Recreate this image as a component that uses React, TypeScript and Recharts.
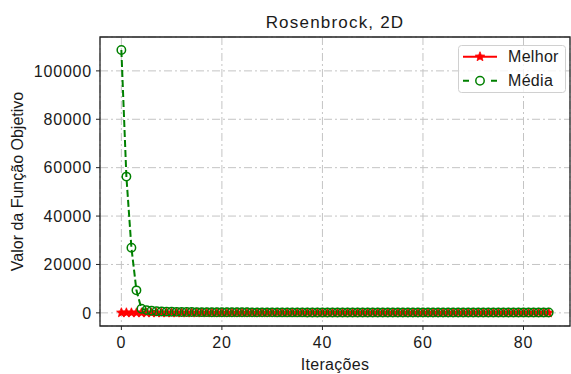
import { LineChart, Line, XAxis, YAxis, CartesianGrid, Legend, ReferenceArea } from "recharts";

const FONT = '"Liberation Sans", Arial, Helvetica, sans-serif';
const TEXT = "#1a1a1a";

const iteracoes = [
  0, 1, 2, 3, 4, 5, 6, 7, 8, 9,
  10, 11, 12, 13, 14, 15, 16, 17, 18, 19,
  20, 21, 22, 23, 24, 25, 26, 27, 28, 29,
  30, 31, 32, 33, 34, 35, 36, 37, 38, 39,
  40, 41, 42, 43, 44, 45, 46, 47, 48, 49,
  50, 51, 52, 53, 54, 55, 56, 57, 58, 59,
  60, 61, 62, 63, 64, 65, 66, 67, 68, 69,
  70, 71, 72, 73, 74, 75, 76, 77, 78, 79,
  80, 81, 82, 83, 84, 85,
];

const melhor = [
  60, 44, 31, 23, 17, 13, 10, 8, 6.4, 5.1,
  4.2, 3.5, 2.9, 2.4, 2.0, 1.7, 1.45, 1.25, 1.1, 0.95,
  0.84, 0.75, 0.67, 0.6, 0.54, 0.49, 0.44, 0.4, 0.37, 0.34,
  0.31, 0.29, 0.27, 0.25, 0.23, 0.21, 0.2, 0.19, 0.18, 0.17,
  0.16, 0.15, 0.14, 0.13, 0.125, 0.12, 0.115, 0.11, 0.105, 0.1,
  0.096, 0.092, 0.088, 0.085, 0.082, 0.079, 0.076, 0.073, 0.07, 0.068,
  0.066, 0.064, 0.062, 0.06, 0.058, 0.056, 0.054, 0.052, 0.05, 0.049,
  0.048, 0.047, 0.046, 0.045, 0.044, 0.043, 0.042, 0.041, 0.04, 0.039,
  0.038, 0.037, 0.036, 0.035, 0.034, 0.033,
];

const media = [
  108600, 56300, 26900, 9300, 1700, 1150, 850, 680, 570, 500,
  450, 410, 380, 355, 335, 318, 302, 290, 278, 268,
  259, 250, 243, 236, 230, 224, 219, 214, 209, 205,
  201, 197, 193, 190, 187, 184, 181, 178, 176, 173,
  171, 169, 167, 165, 163, 161, 159, 157, 156, 154,
  153, 151, 150, 148, 147, 146, 144, 143, 142, 141,
  140, 139, 138, 137, 136, 135, 134, 133, 132, 131,
  130, 129, 128, 127, 127, 126, 125, 124, 124, 123,
  122, 122, 121, 120, 120, 119,
];

const xTicks = [0, 20, 40, 60, 80];
const yTicks = [0, 20000, 40000, 60000, 80000, 100000];
const xDomain = [-4.25, 89.25];
const yDomain = [-5430, 114000];

const data = iteracoes.map((it, i) => ({ it, melhor: melhor[i], media: media[i] }));

const tickStyle = { fontFamily: FONT, fontSize: 16, fill: TEXT, letterSpacing: "0.8px" };

function starPoints(cx: number, cy: number, outer: number, inner: number) {
  const pts: string[] = [];
  for (let k = 0; k < 10; k++) {
    const r = k % 2 === 0 ? outer : inner;
    const a = -Math.PI / 2 + (k * Math.PI) / 5;
    pts.push(`${cx + r * Math.cos(a)},${cy + r * Math.sin(a)}`);
  }
  return pts.join(" ");
}

function StarDot(props: any) {
  const { cx, cy, index } = props;
  if (cx == null || cy == null) return null;
  return <polygon key={`star-${index}`} points={starPoints(cx, cy, 5, 2.2)} fill="#ff0000" stroke="#ff0000" strokeWidth={0.8} />;
}

function LegendBox() {
  return (
    <svg width={108} height={48} style={{ display: "block" }}>
      <rect x={0.5} y={0.5} width={107} height={47} rx={3} fill="rgba(255,255,255,0.8)" stroke="#d0d0d0" />
      <line x1={5} x2={39} y1={11.7} y2={11.7} stroke="#ff0000" strokeWidth={2} />
      <polygon points={starPoints(22, 11.7, 5, 2.2)} fill="#ff0000" stroke="#ff0000" strokeWidth={0.8} />
      <text x={50} y={17.3} fontFamily={FONT} fontSize={16} fill={TEXT} letterSpacing="0.3px">Melhor</text>
      <line x1={5} x2={39} y1={35.7} y2={35.7} stroke="#008000" strokeWidth={2} strokeDasharray="6 22 6" />
      <circle cx={22} cy={35.7} r={4.2} fill="none" stroke="#008000" strokeWidth={1.5} />
      <text x={50} y={41} fontFamily={FONT} fontSize={16} fill={TEXT} letterSpacing="0.3px">Média</text>
    </svg>
  );
}

export default function App() {
  return (
    <div style={{ position: "absolute", left: 0, top: 0, width: 571, height: 374, background: "#fff" }}>
      <div
        style={{
          position: "absolute",
          left: 100,
          width: 470,
          top: 13,
          textAlign: "center",
          fontFamily: FONT,
          fontSize: 17,
          letterSpacing: "1.2px",
          color: TEXT,
          lineHeight: "19px",
        }}
      >
        Rosenbrock, 2D
      </div>
      <LineChart width={571} height={374} data={data} margin={{ top: 37, right: 1, bottom: 0, left: 0 }}>
        <CartesianGrid stroke="#c4c4c4" strokeDasharray="8 3 2 3" strokeWidth={1} />
        <XAxis
          dataKey="it"
          type="number"
          domain={xDomain}
          ticks={xTicks}
          allowDataOverflow
          height={48}
          axisLine={false}
          tickLine={{ stroke: "#222" }}
          tickSize={4}
          tickMargin={7}
          tick={tickStyle}
          label={{ value: "Iterações", position: "insideBottom", offset: 4, style: { fontFamily: FONT, fontSize: 16, fill: TEXT, letterSpacing: "0.3px" } }}
        />
        <YAxis
          type="number"
          domain={yDomain}
          ticks={yTicks}
          allowDataOverflow
          width={100}
          axisLine={false}
          tickLine={{ stroke: "#222" }}
          tickSize={4}
          tickMargin={4}
          tick={tickStyle}
          label={{
            value: "Valor da Função Objetivo",
            angle: -90,
            position: "insideLeft",
            offset: 17,
            style: { fontFamily: FONT, fontSize: 16, fill: TEXT, textAnchor: "middle" },
          }}
        />
        <ReferenceArea x1={xDomain[0]} x2={xDomain[1]} y1={yDomain[0]} y2={yDomain[1]} fill="none" stroke="#222" strokeWidth={1.3} ifOverflow="visible" />
        <Line
          dataKey="melhor"
          name="Melhor"
          stroke="#ff0000"
          strokeWidth={2}
          dot={StarDot}
          isAnimationActive={false}
        />
        <Line
          dataKey="media"
          name="Média"
          stroke="#008000"
          strokeWidth={2}
          strokeDasharray="7 3"
          dot={{ r: 4.2, fill: "none", stroke: "#008000", strokeWidth: 1.5, strokeDasharray: "" }}
          isAnimationActive={false}
        />
        <Legend
          layout="horizontal"
          verticalAlign="middle"
          align="center"
          content={() => <LegendBox />}
          wrapperStyle={{ left: 458, top: 45, width: 108, height: 48 }}
        />
      </LineChart>
    </div>
  );
}
